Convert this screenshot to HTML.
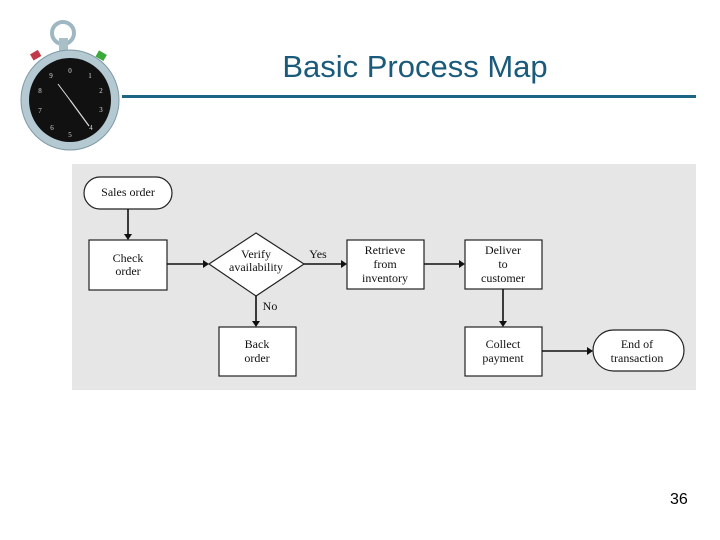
<!DOCTYPE html>
<html><head><meta charset="utf-8"><style>
body{margin:0;width:720px;height:540px;background:#fff;overflow:hidden;position:relative;font-family:"Liberation Sans",sans-serif}
.t{position:absolute;left:200px;width:430px;top:49px;text-align:center;font-size:31px;color:#1a5a7a}
.ln{position:absolute;left:122px;top:95px;width:574px;height:3px;background:#1c6585}
.pg{position:absolute;left:670px;top:491px;font-size:16px}
</style></head><body>
<svg width="720" height="540" style="position:absolute;left:0;top:0">
<circle cx="63" cy="33" r="11" fill="none" stroke="#9fb7c2" stroke-width="4"/>
<rect x="59" y="38" width="9" height="14" fill="#a9c0c9"/>
<rect x="31" y="52" width="9" height="7" fill="#c23a4a" transform="rotate(-30 35 55)"/>
<rect x="97" y="52" width="9" height="7" fill="#3aaa3a" transform="rotate(30 101 55)"/>
<ellipse cx="70" cy="100" rx="49" ry="50" fill="#b4c9d1" stroke="#7f9aa5"/>
<ellipse cx="70" cy="100" rx="41" ry="42" fill="#111"/>
<g font-family="Liberation Serif" font-size="7" fill="#ddd" text-anchor="middle">
<text x="70" y="73">0</text><text x="90" y="78">1</text><text x="101" y="93">2</text><text x="101" y="112">3</text><text x="91" y="130">4</text><text x="70" y="137">5</text><text x="52" y="130">6</text><text x="40" y="113">7</text><text x="40" y="93">8</text><text x="51" y="78">9</text></g>
<line x1="70" y1="100" x2="89" y2="126" stroke="#ddd" stroke-width="1.2"/>
<line x1="70" y1="100" x2="58" y2="84" stroke="#ddd" stroke-width="1"/>
<rect x="72" y="164" width="624" height="226" fill="#e6e6e6"/>
<g fill="#fff" stroke="#222" stroke-width="1.2">
<rect x="84" y="177" width="88" height="32" rx="16"/>
<rect x="89" y="240" width="78" height="50"/>
<polygon points="209,264 256,233 304,264 256,296"/>
<rect x="347" y="240" width="77" height="49"/>
<rect x="465" y="240" width="77" height="49"/>
<rect x="219" y="327" width="77" height="49"/>
<rect x="465" y="327" width="77" height="49"/>
<rect x="593" y="330" width="91" height="41" rx="20.5"/>
</g>
<g stroke="#111" stroke-width="1.6" fill="none">
<line x1="128" y1="209" x2="128" y2="236"/>
<line x1="167" y1="264" x2="205" y2="264"/>
<line x1="304" y1="264" x2="343" y2="264"/>
<line x1="424" y1="264" x2="461" y2="264"/>
<line x1="256" y1="296" x2="256" y2="323"/>
<line x1="503" y1="289" x2="503" y2="323"/>
<line x1="542" y1="351" x2="589" y2="351"/>
</g>
<g fill="#111">
<polygon points="124,234 132,234 128,240"/>
<polygon points="203,260 203,268 209,264"/>
<polygon points="341,260 341,268 347,264"/>
<polygon points="459,260 459,268 465,264"/>
<polygon points="252,321 260,321 256,327"/>
<polygon points="499,321 507,321 503,327"/>
<polygon points="587,347 587,355 593,351"/>
</g>
<g font-family="Liberation Serif" font-size="12" fill="#111" text-anchor="middle">
<text x="128" y="196">Sales order</text>
<text x="128" y="262">Check</text><text x="128" y="275">order</text>
<text x="256" y="258">Verify</text><text x="256" y="271">availability</text>
<text x="318" y="258">Yes</text><text x="270" y="310">No</text>
<text x="385" y="254">Retrieve</text><text x="385" y="268">from</text><text x="385" y="282">inventory</text>
<text x="503" y="254">Deliver</text><text x="503" y="268">to</text><text x="503" y="282">customer</text>
<text x="257" y="348">Back</text><text x="257" y="362">order</text>
<text x="503" y="348">Collect</text><text x="503" y="362">payment</text>
<text x="637" y="348">End of</text><text x="637" y="362">transaction</text>
</g>
</svg>
<div class="t">Basic Process Map</div>
<div class="ln"></div>
<div class="pg">36</div>
</body></html>
